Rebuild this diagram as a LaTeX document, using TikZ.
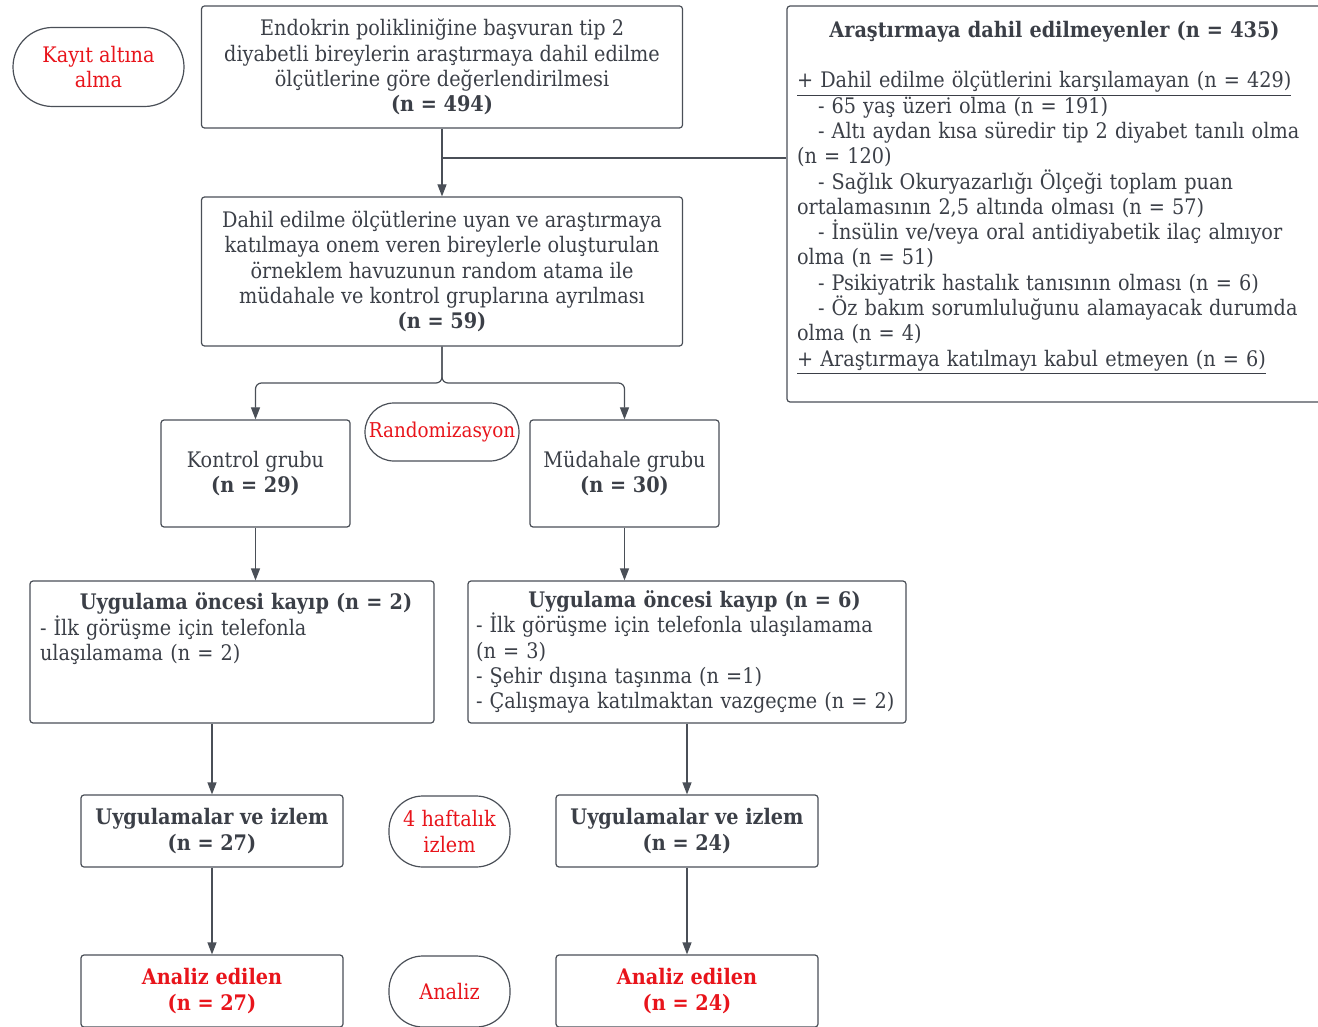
\documentclass[tikz,border=0pt]{standalone}
\usepackage{fontspec}
\setmainfont{DejaVu Serif Condensed}
\usetikzlibrary{shapes.geometric, arrows, arrows.meta}
\definecolor{textgray}{HTML}{3B3F47}
\definecolor{linegray}{HTML}{4A4F57}
\definecolor{alarmred}{HTML}{E8141B}
\tikzstyle{process} = [rectangle, rounded corners=1.5pt, draw=linegray, text=textgray, align=center, line width=0.6pt]
\tikzstyle{loss} = [process, align=left, inner xsep=5pt]
\tikzstyle{phase} = [rectangle, draw=linegray, text=alarmred, align=center, line width=0.6pt]
\tikzstyle{arrow} = [draw=linegray, line width=0.6pt, -{Triangle[length=6pt, width=4.5pt]}]

\begin{document}
\begin{tikzpicture}[node distance=50pt, font=\fontsize{10.7}{12.65}\selectfont]
				\useasboundingbox (0,0) rectangle (659pt,-513.5pt);
				\node(screen) [process, minimum width=240.5pt, minimum height=61pt] at (221pt,-33.5pt) {Endokrin polikliniğine başvuran tip 2\\diyabetli bireylerin araştırmaya dahil edilme\\ölçütlerine göre değerlendirilmesi\\\textbf{(n = 494)}};
				\node(enrol) [phase, rounded corners=19.75pt, minimum width=85.5pt, minimum height=39.5pt, left of=screen, xshift=-121.75pt] {Kayıt altına\\alma};
				\node(excluded) [loss, text width=257.5pt, minimum height=198pt, right of=screen, xshift=256.25pt, yshift=-68.5pt] {\hbox to \hsize{\hfil\textbf{Araştırmaya dahil edilmeyenler (n = 435)}\hfil}\\[12.65pt]
					\underline{+ Dahil edilme ölçütlerini karşılamayan (n = 429)}\\
					\hspace*{10.5pt}- 65 yaş üzeri olma (n = 191)\\
					\hspace*{10.5pt}- Altı aydan kısa süredir tip 2 diyabet tanılı olma\\
					(n = 120)\\
					\hspace*{10.5pt}- Sağlık Okuryazarlığı Ölçeği toplam puan\\
					ortalamasının 2,5 altında olması (n = 57)\\
					\hspace*{10.5pt}- İnsülin ve/veya oral antidiyabetik ilaç almıyor\\
					olma (n = 51)\\
					\hspace*{10.5pt}- Psikiyatrik hastalık tanısının olması (n = 6)\\
					\hspace*{10.5pt}- Öz bakım sorumluluğunu alamayacak durumda\\
					olma (n = 4)\\
					\underline{+ Araştırmaya katılmayı kabul etmeyen (n = 6)}\par\vspace*{6pt}};
				
				\node(pool) [process, minimum width=240.5pt, minimum height=74.5pt, below of=screen, yshift=-52.25pt] {Dahil edilme ölçütlerine uyan ve araştırmaya\\katılmaya onem veren bireylerle oluşturulan\\örneklem havuzunun random atama ile\\müdahale ve kontrol gruplarına ayrılması\\\textbf{(n = 59)}};
				\node(random) [phase, rounded corners=14.5pt, minimum width=77pt, minimum height=29pt, inner xsep=1pt, font=\fontsize{10.2}{12.65}\selectfont, below of=pool, yshift=-30.25pt] {Randomizasyon};
				\node(control) [process, minimum width=94.5pt, minimum height=53.5pt, below of=pool, xshift=-93.25pt, yshift=-51pt] {Kontrol grubu\\\textbf{(n = 29)}};
				\node(intervention) [process, minimum width=94.5pt, minimum height=53.5pt, below of=pool, xshift=91.25pt, yshift=-51pt] {Müdahale grubu\\\textbf{(n = 30)}};
				
				\node(dropout1) [loss, text width=192pt, minimum height=71pt, below of=control, xshift=-11.75pt, yshift=-39.25pt] {\hbox to \hsize{\hfil\hspace*{14pt}\textbf{Uygulama öncesi kayıp (n = 2)}\hfil}\\
					- İlk görüşme için telefonla\\
					ulaşılamama (n = 2)\\ \mbox{}\\ \mbox{}};
				\node(dropout2) [loss, text width=211pt, inner xsep=4pt, minimum height=71pt, below of=intervention, xshift=31.25pt, yshift=-39.25pt] {\hbox to \hsize{\hfil\hspace*{7.5pt}\textbf{Uygulama öncesi kayıp (n = 6)}\hfil}\\
					- İlk görüşme için telefonla ulaşılamama\\
					(n = 3)\\
					- Şehir dışına taşınma (n =1)\\
					\mbox{- Çalışmaya katılmaktan vazgeçme (n = 2)}};
				
				\node(followup1) [process, minimum width=131pt, minimum height=36pt, below of=dropout1, xshift=-10pt, yshift=-39.5pt] {\textbf{Uygulamalar ve izlem}\\\textbf{(n = 27)}};
				\node(followup2) [process, minimum width=131pt, minimum height=36pt, below of=dropout2, yshift=-39.5pt] {\textbf{Uygulamalar ve izlem}\\\textbf{(n = 24)}};
				\node(weeks) [phase, rounded corners=17pt, minimum width=60.5pt, minimum height=35.5pt, right of=followup1, xshift=68.75pt, yshift=-0.25pt] {4 haftalık\\izlem};
				
				\node(analysed1) [process, text=alarmred, minimum width=131pt, minimum height=36pt, below of=followup1, yshift=-30pt] {\textbf{Analiz edilen}\\\textbf{(n = 27)}};
				\node(analysed2) [process, text=alarmred, minimum width=131pt, minimum height=36pt, below of=followup2, yshift=-30pt] {\textbf{Analiz edilen}\\\textbf{(n = 24)}};
				\node(analysis) [phase, rounded corners=17pt, minimum width=60.5pt, minimum height=35.5pt, below of=weeks, yshift=-30pt] {Analiz};
				
				\coordinate (branch) at (221pt,-79pt);
				\coordinate (split) at (221pt,-191.5pt);
				\draw[arrow] (screen) -- (pool);
				\draw[draw=linegray, line width=0.6pt] (branch) -- (branch -| excluded.west);
				\draw[arrow, rounded corners=3pt] (pool.south) -- (split) -| (control.north);
				\draw[arrow, rounded corners=3pt] (pool.south) -- (split) -| (intervention.north);
				\draw[arrow] (control.south) -- (control.south |- dropout1.north);
				\draw[arrow] (intervention.south) -- (intervention.south |- dropout2.north);
				\draw[arrow] (dropout1.south -| followup1.north) -- (followup1.north);
				\draw[arrow] (dropout2.south -| followup2.north) -- (followup2.north);
				\draw[arrow] (followup1) -- (analysed1);
				\draw[arrow] (followup2) -- (analysed2);
				
			\end{tikzpicture}
\end{document}
